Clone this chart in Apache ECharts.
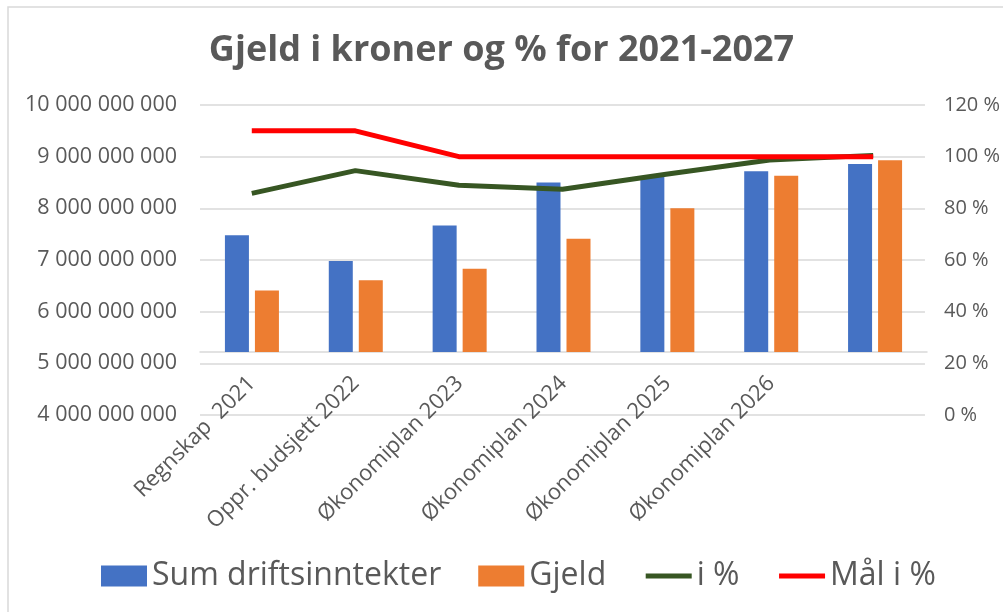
<!DOCTYPE html>
<html>
<head>
<meta charset="utf-8">
<script src="https://cdn.jsdelivr.net/npm/echarts@6/dist/echarts.min.js"></script>
<style>
  html, body { margin: 0; padding: 0; background: #fff; }
  #chart { width: 1003px; height: 612px; }
</style>
</head>
<body>
<div id="chart"></div>
<script>
'use strict';

/* Data */
var categories = ['Regnskap  2021', 'Oppr. budsjett 2022', 'Økonomiplan 2023', 'Økonomiplan 2024',
                  'Økonomiplan 2025', 'Økonomiplan 2026', ''];
var driftsinntekter = [7.48e9, 6.98e9, 7.67e9, 8.50e9, 8.61e9, 8.72e9, 8.86e9];
var gjeld = [6.41e9, 6.61e9, 6.83e9, 7.41e9, 8.00e9, 8.63e9, 8.93e9];
var gjeldProsent = [85.8, 94.6, 88.9, 87.4, 93.2, 98.7, 100.5];
var maalProsent = [110, 110, 100, 100, 100, 100, 100];
var kronerTicks = [4e9, 10e9, 1e9];   // min, max, interval
var prosentTicks = [0, 120, 20];
var barBase = 5.22e9;                 // where Excel's bars start

var font = 'Open Sans';
var grey = '#595959';
var gridGrey = '#d9d9d9';

function spaced(v) {
    return String(v).replace(/\B(?=(\d{3})+(?!\d))/g, ' ');
}

var chart = echarts.init(document.getElementById('chart'));

chart.setOption({
    animation: false,
    textStyle: { fontFamily: font },
    title: {
        text: 'Gjeld i kroner og % for 2021-2027',
        left: 'center',
        top: 28,
        textStyle: { fontFamily: font, fontSize: 36, fontWeight: 'bold', color: grey }
    },
    legend: {
        bottom: 15,
        left: 96,
        itemWidth: 46,
        itemHeight: 21,
        itemGap: 37,
        textStyle: { fontFamily: font, fontSize: 32, color: grey, padding: [0, 0, 0, 0] },
        data: [
            { name: 'Sum driftsinntekter', icon: 'rect' },
            { name: 'Gjeld', icon: 'rect' },
            { name: 'i %', itemStyle: { opacity: 0 }, lineStyle: { width: 5 } },
            { name: 'Mål i %', itemStyle: { opacity: 0 }, lineStyle: { width: 5 } }
        ]
    },
    graphic: [{
        type: 'rect',
        shape: { x: 8, y: 7, width: 1100, height: 700 },
        style: { fill: 'none', stroke: gridGrey, lineWidth: 1.5 },
        silent: true
    }],
    grid: [
        { left: 200, right: 76, top: 105, bottom: 197 },
        { left: 200, right: 76, top: 105, bottom: 260 }
    ],
    xAxis: [
        { type: 'category', gridIndex: 0, data: categories, show: false },
        {
            type: 'category', gridIndex: 1, data: categories,
            axisLine: { lineStyle: { color: gridGrey, width: 1.5 } },
            axisTick: { show: false },
            axisLabel: { rotate: 45, margin: 28, fontSize: 22, color: grey, fontFamily: font, interval: 0 }
        }
    ],
    yAxis: [
        {
            type: 'value', gridIndex: 0,
            min: kronerTicks[0], max: kronerTicks[1], interval: kronerTicks[2],
            axisLine: { show: false }, axisTick: { show: false },
            axisLabel: { fontSize: 21.5, color: grey, fontFamily: font, margin: 23, formatter: spaced },
            splitLine: { lineStyle: { color: gridGrey, width: 1.5 } }
        },
        {
            type: 'value', gridIndex: 0, position: 'right',
            min: prosentTicks[0], max: prosentTicks[1], interval: prosentTicks[2],
            axisLine: { show: false }, axisTick: { show: false },
            axisLabel: { fontSize: 20, color: grey, fontFamily: font, margin: 19, formatter: '{value} %' },
            splitLine: { show: false }
        },
        {
            type: 'value', gridIndex: 1, show: false,
            min: barBase, max: kronerTicks[1],
            splitLine: { show: false }
        }
    ],
    series: [
        {
            name: 'Sum driftsinntekter', type: 'bar',
            xAxisIndex: 1, yAxisIndex: 2,
            data: driftsinntekter,
            barGap: '25%', barCategoryGap: '48%',
            itemStyle: { color: '#4472c4' }
        },
        {
            name: 'Gjeld', type: 'bar',
            xAxisIndex: 1, yAxisIndex: 2,
            data: gjeld,
            itemStyle: { color: '#ed7d31' }
        },
        {
            name: 'i %', type: 'line',
            xAxisIndex: 0, yAxisIndex: 1,
            data: gjeldProsent,
            symbol: 'none',
            lineStyle: { color: '#375623', width: 5 },
            itemStyle: { color: '#375623' }
        },
        {
            name: 'Mål i %', type: 'line',
            xAxisIndex: 0, yAxisIndex: 1,
            data: maalProsent,
            symbol: 'none',
            lineStyle: { color: '#ff0000', width: 5 },
            itemStyle: { color: '#ff0000' }
        }
    ]
});
</script>
</body>
</html>
